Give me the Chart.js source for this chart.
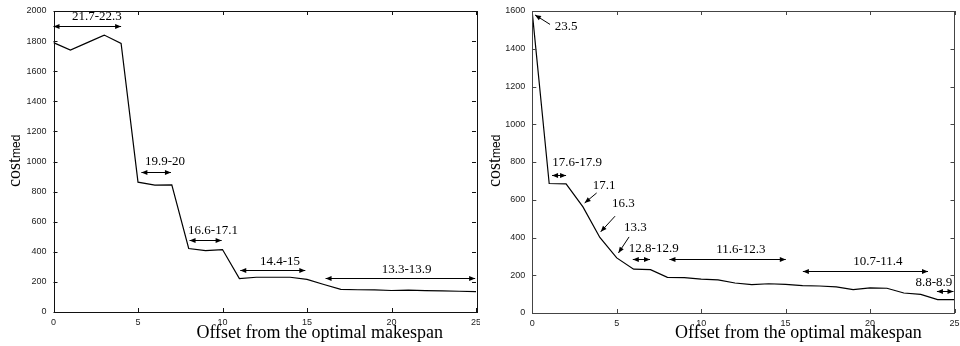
<!DOCTYPE html>
<html>
<head>
<meta charset="utf-8">
<script src="https://cdn.jsdelivr.net/npm/chart.js@4.4.1/dist/chart.umd.min.js"></script>
<style>
  body { margin: 0; background: #fff; }
  .row { display: flex; width: 960px; height: 346px; }
  .row canvas { display: block; }
</style>
</head>
<body>
<div class="row">
  <canvas id="left" width="480" height="346"></canvas>
  <canvas id="right" width="480" height="346"></canvas>
</div>
<script>
// offset from the optimal makespan (x axis)
const offsets = [0, 1, 2, 3, 4, 5, 6, 7, 8, 9, 10, 11, 12, 13, 14, 15, 16, 17, 18, 19, 20, 21, 22, 23, 24, 25];

// cost_med values
const leftCost = [1790, 1740, 1790, 1840, 1785, 863, 843, 845, 422, 408, 415, 222, 231, 231, 231, 217, 183, 150, 148, 147, 143, 145, 142, 140, 138, 136];
const rightCost = [1590, 686, 684, 562, 400, 292, 232, 230, 189, 187, 179, 175, 159, 150, 155, 152, 145, 143, 138, 124, 133, 131, 106, 99, 71, 71];

const xTicks = [0, 5, 10, 15, 20, 25];
const leftYTicks = [0, 200, 400, 600, 800, 1000, 1200, 1400, 1600, 1800, 2000];
const rightYTicks = [0, 200, 400, 600, 800, 1000, 1200, 1400, 1600];

// range labels (double arrows), in data units
const leftRangeText = ["21.7-22.3", "19.9-20", "16.6-17.1", "14.4-15", "13.3-13.9"];
const leftRangeFrom = [0, 5.2, 8.05, 11.05, 16.1];
const leftRangeTo = [4, 6.95, 9.95, 14.9, 24.95];
const leftRangeCost = [1900, 927, 481, 282, 224];
const leftTextX = [2.57, 6.6, 9.44, 13.4, 20.9];
const leftTextCost = [1960, 998, 543, 337, 284];

const rightRangeText = ["17.6-17.9", "12.8-12.9", "11.6-12.3", "10.7-11.4", "8.8-8.9"];
const rightRangeFrom = [1.17, 5.95, 8.12, 16.02, 23.96];
const rightRangeTo = [2.0, 6.97, 15.01, 23.43, 24.94];
const rightRangeCost = [730, 288, 288, 223, 117];
const rightTextX = [2.65, 7.19, 12.35, 20.46, 23.78];
const rightTextCost = [798, 341, 338, 270, 161];

// single point labels (one arrow head)
const rightPointText = ["23.5", "17.1", "16.3", "13.3"];
const rightTailX = [1.05, 3.81, 4.9, 5.73];
const rightTailCost = [1529, 636, 513, 403];
const rightHeadX = [0.16, 3.1, 4.05, 5.1];
const rightHeadCost = [1579, 583, 430, 318];
const rightPtTextX = [2.01, 4.25, 5.39, 6.1];
const rightPtTextCost = [1517, 677, 580, 453];

function arrowHead(ctx, x1, y1, x2, y2) {
  const a = Math.atan2(y2 - y1, x2 - x1);
  const len = 6, w = 2.4;
  ctx.beginPath();
  ctx.moveTo(x2, y2);
  ctx.lineTo(x2 - len * Math.cos(a) + w * Math.sin(a), y2 - len * Math.sin(a) - w * Math.cos(a));
  ctx.lineTo(x2 - len * Math.cos(a) - w * Math.sin(a), y2 - len * Math.sin(a) + w * Math.cos(a));
  ctx.closePath();
  ctx.fill();
}

function makeChart(id, cost, yMax, yTicks, frameColor, notes) {
  const plugin = {
    id: "decor",
    afterDraw(chart) {
      const { ctx, chartArea: a, scales: { x, y } } = chart;
      ctx.save();
      // frame + inward ticks on all sides
      ctx.strokeStyle = frameColor;
      ctx.lineWidth = 1;
      ctx.strokeRect(Math.round(a.left) + 0.5, Math.round(a.top) + 0.5,
        Math.round(a.right - a.left), Math.round(a.bottom - a.top));
      ctx.beginPath();
      xTicks.forEach(v => {
        const px = Math.round(x.getPixelForValue(v)) + 0.5;
        ctx.moveTo(px, a.bottom); ctx.lineTo(px, a.bottom - 4);
        ctx.moveTo(px, a.top); ctx.lineTo(px, a.top + 4);
      });
      yTicks.forEach(v => {
        const py = Math.round(y.getPixelForValue(v)) + 0.5;
        ctx.moveTo(a.left, py); ctx.lineTo(a.left + 4, py);
        ctx.moveTo(a.right, py); ctx.lineTo(a.right - 4, py);
      });
      ctx.stroke();

      // annotations
      ctx.fillStyle = "#000";
      ctx.strokeStyle = "#000";
      ctx.lineWidth = 1;
      ctx.font = "13px 'Liberation Serif', 'DejaVu Serif', serif";
      ctx.textAlign = "center";
      ctx.textBaseline = "middle";
      notes.rangeText.forEach((t, i) => {
        const x1 = x.getPixelForValue(notes.from[i]);
        const x2 = x.getPixelForValue(notes.to[i]);
        const py = Math.round(y.getPixelForValue(notes.cost[i])) + 0.5;
        ctx.beginPath(); ctx.moveTo(x1, py); ctx.lineTo(x2, py); ctx.stroke();
        arrowHead(ctx, x2, py, x1, py);
        arrowHead(ctx, x1, py, x2, py);
        ctx.fillText(t, x.getPixelForValue(notes.textX[i]), y.getPixelForValue(notes.textCost[i]));
      });
      (notes.pointText || []).forEach((t, i) => {
        const tx = x.getPixelForValue(notes.tailX[i]);
        const ty = y.getPixelForValue(notes.tailCost[i]);
        const hx = x.getPixelForValue(notes.headX[i]);
        const hy = y.getPixelForValue(notes.headCost[i]);
        ctx.beginPath(); ctx.moveTo(tx, ty); ctx.lineTo(hx, hy); ctx.stroke();
        arrowHead(ctx, tx, ty, hx, hy);
        ctx.fillText(t, x.getPixelForValue(notes.ptTextX[i]), y.getPixelForValue(notes.ptTextCost[i]));
      });

      // x axis title
      ctx.font = "18px 'Liberation Serif', 'DejaVu Serif', serif";
      ctx.fillText("Offset from the optimal makespan", (a.left + a.right) / 2 + 55, 333);

      // y axis title: cost with "med" subscript
      ctx.translate(20, chart.height - 159);
      ctx.rotate(-Math.PI / 2);
      ctx.textAlign = "left";
      ctx.textBaseline = "alphabetic";
      ctx.font = "18px 'Liberation Serif', 'DejaVu Serif', serif";
      ctx.fillText("cost", 0, 0);
      const w = ctx.measureText("cost").width;
      ctx.font = "12px 'Liberation Sans', Arial, sans-serif";
      ctx.fillText("med", w, 0);
      ctx.restore();
    }
  };

  return new Chart(document.getElementById(id), {
    type: "line",
    data: {
      datasets: [{
        data: offsets.map((o, i) => ({ x: o, y: cost[i] })),
        borderColor: "#000",
        borderWidth: 1.2,
        pointRadius: 0,
        tension: 0,
        fill: false
      }]
    },
    options: {
      responsive: false,
      animation: false,
      devicePixelRatio: 1,
      layout: { padding: { top: 11, right: notes.padRight, left: 0, bottom: 0 } },
      plugins: { legend: { display: false }, tooltip: { enabled: false } },
      scales: {
        x: {
          type: "linear", min: 0, max: 25,
          afterBuildTicks: s => { s.ticks = xTicks.map(v => ({ value: v })); },
          afterFit: s => { s.height = notes.xHeight; s.paddingLeft = 0; s.paddingRight = 0; },
          grid: { display: false, drawTicks: false },
          border: { display: false },
          ticks: { padding: 5, color: "#222", font: { family: "'Liberation Sans', Arial, sans-serif", size: 9 },
            callback: v => String(v) }
        },
        y: {
          min: 0, max: yMax,
          afterBuildTicks: s => { s.ticks = yTicks.map(v => ({ value: v })); },
          afterFit: s => { s.width = notes.yWidth; s.paddingTop = 0; s.paddingBottom = 0; },
          grid: { display: false, drawTicks: false },
          border: { display: false },
          ticks: { padding: 7, color: "#222", font: { family: "'Liberation Sans', Arial, sans-serif", size: 9 },
            callback: v => String(v) }
        }
      }
    },
    plugins: [plugin]
  });
}

makeChart("left", leftCost, 2000, leftYTicks, "#111", {
  rangeText: leftRangeText, from: leftRangeFrom, to: leftRangeTo, cost: leftRangeCost,
  textX: leftTextX, textCost: leftTextCost,
  padRight: 4, xHeight: 34, yWidth: 53.5
});

makeChart("right", rightCost, 1600, rightYTicks, "#444", {
  rangeText: rightRangeText, from: rightRangeFrom, to: rightRangeTo, cost: rightRangeCost,
  textX: rightTextX, textCost: rightTextCost,
  pointText: rightPointText, tailX: rightTailX, tailCost: rightTailCost,
  headX: rightHeadX, headCost: rightHeadCost, ptTextX: rightPtTextX, ptTextCost: rightPtTextCost,
  padRight: 5.5, xHeight: 33, yWidth: 52.3
});
</script>
</body>
</html>
